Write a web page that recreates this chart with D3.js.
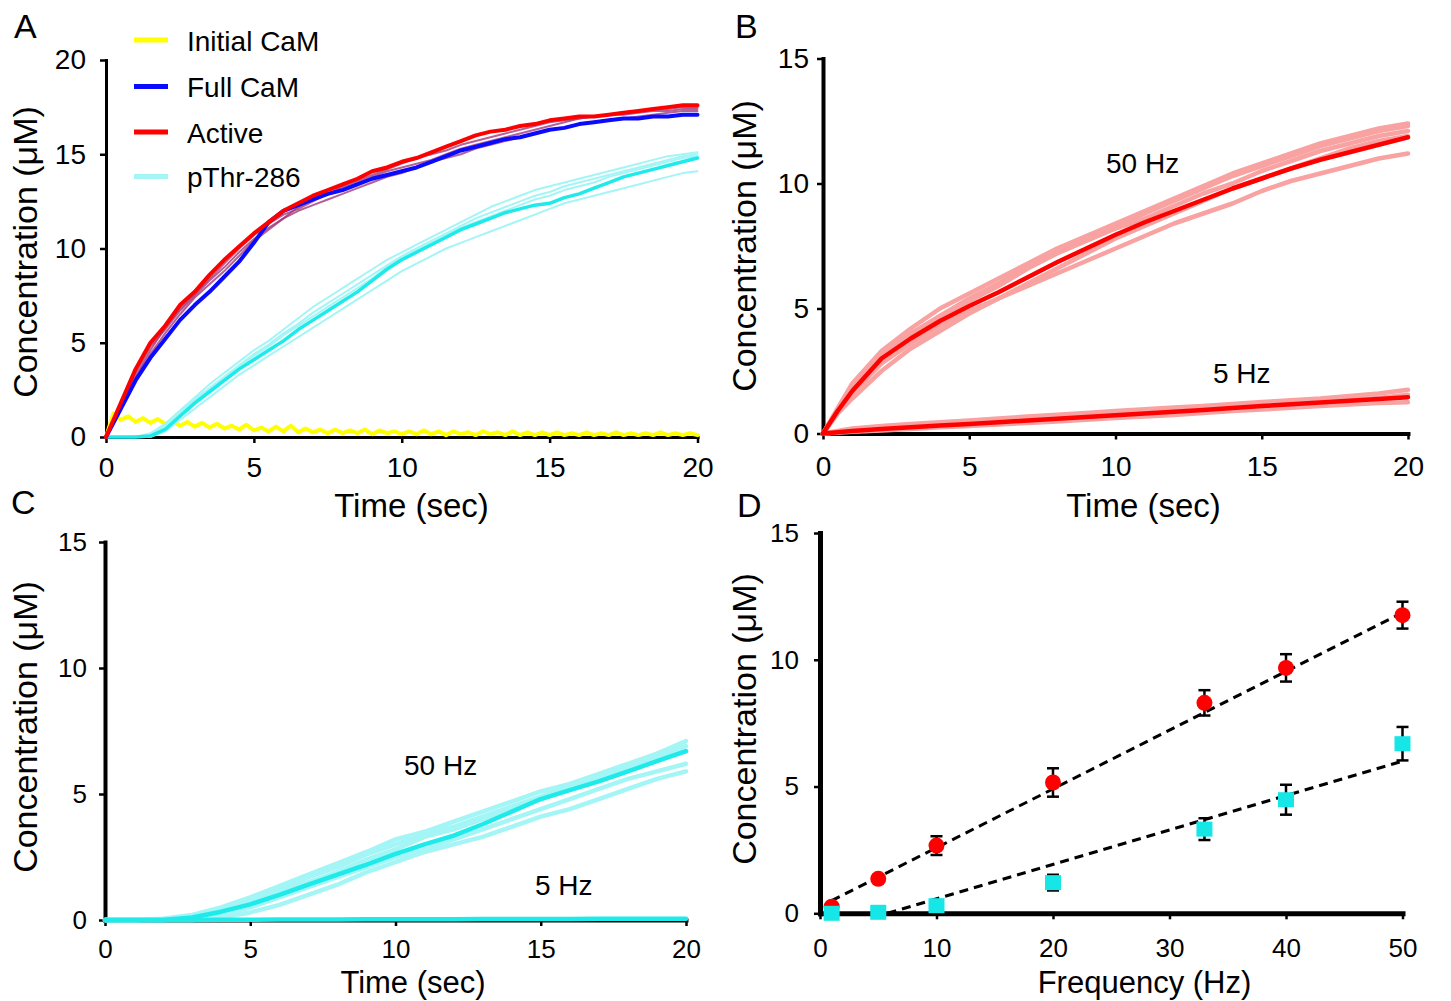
<!DOCTYPE html>
<html>
<head>
<meta charset="utf-8">
<script src="https://cdn.jsdelivr.net/npm/d3@7"></script>
<style>
  body { margin: 0; background: #fff; }
  svg { display: block; font-family: 'Liberation Sans', Arial, sans-serif; }
</style>
</head>
<body>
<script>
// ---------------- DATA ----------------
// Panel A (time grid every 0.5 s)
const timeA = [0,0.5,1,1.5,2,2.5,3,3.5,4,4.5,5,5.5,6,6.5,7,7.5,8,8.5,9,9.5,10,10.5,11,11.5,12,12.5,13,13.5,14,14.5,15,15.5,16,16.5,17,17.5,18,18.5,19,19.5,20];
const activeMeanA = [0,1.8,3.6,5.0,5.9,7.0,7.7,8.6,9.4,10.1,10.8,11.4,12.0,12.4,12.8,13.1,13.4,13.7,14.1,14.3,14.6,14.8,15.1,15.4,15.7,16.0,16.2,16.3,16.5,16.6,16.8,16.9,17.0,17.0,17.1,17.2,17.3,17.4,17.5,17.6,17.6];
const fullCaMMeanA = [0,1.5,3.0,4.2,5.2,6.2,7.0,7.7,8.5,9.3,10.3,11.4,12.0,12.3,12.6,12.9,13.1,13.4,13.7,13.9,14.1,14.3,14.6,14.9,15.2,15.4,15.6,15.8,15.9,16.1,16.3,16.4,16.6,16.7,16.8,16.9,16.9,17.0,17.0,17.1,17.1];
const activeRun1A = [0,1.6,3.2,4.6,5.8,6.8,7.6,8.4,9.2,10.0,10.7,11.3,11.8,12.1,12.5,12.9,13.3,13.6,13.9,14.2,14.5,14.8,15.0,15.2,15.5,15.7,15.9,16.1,16.3,16.5,16.7,16.8,16.9,17.0,17.1,17.2,17.3,17.4,17.4,17.5,17.5];
const activeRun2A = [0,1.7,3.4,4.8,5.7,6.7,7.5,8.3,9.0,9.8,10.5,11.1,11.6,12.2,12.6,12.9,13.2,13.5,13.8,14.1,14.3,14.5,14.7,15.0,15.3,15.5,15.7,15.9,16.1,16.3,16.5,16.7,16.9,17.0,17.1,17.1,17.2,17.3,17.3,17.4,17.4];
const activeRun3A = [0,1.5,3.1,4.4,5.5,6.5,7.4,8.1,8.8,9.6,10.4,11.0,11.6,12.0,12.3,12.6,12.9,13.2,13.5,13.8,14.0,14.3,14.6,14.8,15.0,15.3,15.5,15.7,15.9,16.1,16.3,16.4,16.6,16.7,16.8,16.9,17.0,17.1,17.2,17.3,17.3];
const pThrMeanA = [0,0,0,0.05,0.4,1.1,1.8,2.4,3.0,3.6,4.1,4.6,5.1,5.7,6.2,6.7,7.2,7.7,8.3,8.9,9.4,9.8,10.2,10.6,11.0,11.3,11.6,11.9,12.1,12.3,12.4,12.7,12.9,13.2,13.5,13.8,14.0,14.2,14.4,14.6,14.8];
const pThrRun1A = [0,0,0,0.2,0.7,1.4,2.1,2.8,3.4,4.0,4.6,5.1,5.7,6.3,6.9,7.4,7.9,8.4,8.9,9.4,9.8,10.2,10.6,11.0,11.4,11.8,12.2,12.5,12.8,13.1,13.3,13.5,13.7,13.9,14.1,14.3,14.5,14.7,14.9,15.0,15.1];
const pThrRun2A = [0,0,0,0.1,0.6,1.3,2.0,2.6,3.2,3.8,4.4,4.9,5.5,6.0,6.6,7.1,7.6,8.1,8.6,9.1,9.6,10.0,10.4,10.8,11.2,11.6,11.9,12.2,12.5,12.8,13.0,13.3,13.5,13.7,13.9,14.1,14.3,14.5,14.7,14.9,15.0];
const pThrRun3A = [0,0,0,0,0.3,0.9,1.5,2.1,2.7,3.3,3.8,4.3,4.8,5.3,5.8,6.3,6.8,7.3,7.8,8.3,8.8,9.2,9.6,10.0,10.3,10.6,10.9,11.2,11.5,11.8,12.1,12.4,12.6,12.8,13.0,13.2,13.4,13.6,13.8,14.0,14.1];
const pThrRun4A = [0,0,0,0.05,0.5,1.2,1.9,2.5,3.1,3.7,4.3,4.8,5.4,5.9,6.4,6.9,7.4,7.9,8.4,9.0,9.5,9.9,10.3,10.7,11.1,11.4,11.7,12.0,12.3,12.6,12.8,13.1,13.3,13.5,13.8,14.0,14.2,14.4,14.6,14.8,14.9];
// Initial CaM (time grid every 0.25 s)
const timeYellow = [0,0.25,0.5,0.75,1,1.25,1.5,1.75,2,2.25,2.5,2.75,3,3.25,3.5,3.75,4,4.25,4.5,4.75,5,5.25,5.5,5.75,6,6.25,6.5,6.75,7,7.25,7.5,7.75,8,8.25,8.5,8.75,9,9.25,9.5,9.75,10,10.25,10.5,10.75,11,11.25,11.5,11.75,12,12.25,12.5,12.75,13,13.25,13.5,13.75,14,14.25,14.5,14.75,15,15.25,15.5,15.75,16,16.25,16.5,16.75,17,17.25,17.5,17.75,18,18.25,18.5,18.75,19,19.25,19.5,19.75,20];
const initialCaMA = [0,1.25,0.9,1.1,0.8,1.0,0.75,0.95,0.7,0.85,0.6,0.8,0.55,0.75,0.5,0.7,0.45,0.6,0.4,0.65,0.35,0.5,0.3,0.55,0.3,0.6,0.25,0.45,0.25,0.4,0.2,0.4,0.2,0.35,0.2,0.4,0.15,0.35,0.2,0.3,0.15,0.3,0.15,0.35,0.15,0.3,0.1,0.3,0.15,0.25,0.1,0.3,0.15,0.25,0.1,0.3,0.1,0.25,0.1,0.25,0.1,0.25,0.1,0.2,0.1,0.25,0.1,0.2,0.1,0.25,0.1,0.2,0.1,0.2,0.1,0.25,0.1,0.2,0.1,0.2,0.1];
const legendLabels = ["Initial CaM", "Full CaM", "Active", "pThr-286"];

// Panel B (Active CaMKII)
const timeB = [0,0.5,1,2,3,4,5,6,7,8,9,10,11,12,13,14,15,16,17,18,19,20];
const active50Mean = [0,0.9,1.7,3.0,3.8,4.5,5.1,5.65,6.25,6.85,7.4,7.95,8.45,8.9,9.35,9.8,10.2,10.6,10.95,11.25,11.55,11.85];
const active50Run1 = [0,1.0,2.0,3.3,4.2,5.0,5.6,6.2,6.8,7.4,7.9,8.4,8.9,9.4,9.9,10.4,10.8,11.2,11.6,11.9,12.2,12.4];
const active50Run2 = [0,0.9,1.8,3.1,4.0,4.7,5.4,6.0,6.7,7.3,7.8,8.3,8.8,9.3,9.8,10.3,10.7,11.1,11.5,11.8,12.1,12.3];
const active50Run3 = [0,0.8,1.4,2.5,3.4,4.1,4.8,5.4,6.0,6.6,7.2,7.8,8.3,8.8,9.3,9.8,10.2,10.6,11.0,11.4,11.7,11.9];
const active50Run4 = [0,0.8,1.6,2.8,3.6,4.3,4.9,5.4,5.9,6.4,6.9,7.4,7.9,8.4,8.8,9.2,9.7,10.1,10.4,10.7,11.0,11.2];
const active50Run5 = [0,0.9,1.7,3.0,3.9,4.7,5.3,5.9,6.6,7.2,7.7,8.2,8.6,9.1,9.6,10.0,10.5,10.9,11.3,11.6,11.9,12.1];
const active5Mean = [0,0.05,0.1,0.18,0.25,0.32,0.38,0.45,0.52,0.59,0.66,0.73,0.8,0.87,0.94,1.02,1.1,1.17,1.24,1.31,1.38,1.45];
const active5Run1 = [0,0.1,0.2,0.3,0.38,0.45,0.52,0.6,0.68,0.75,0.82,0.9,0.97,1.04,1.1,1.18,1.26,1.33,1.4,1.5,1.6,1.75];
const active5Run2 = [0,0.03,0.07,0.12,0.18,0.25,0.3,0.36,0.42,0.48,0.55,0.62,0.68,0.74,0.82,0.9,0.96,1.03,1.1,1.16,1.22,1.25];
const active5Run3 = [0,0.05,0.12,0.2,0.28,0.36,0.42,0.5,0.56,0.64,0.72,0.78,0.86,0.92,1.0,1.08,1.15,1.22,1.3,1.36,1.42,1.55];

// Panel C (pThr-286)
const timeC = [0,1,2,3,4,5,6,7,8,9,10,11,12,13,14,15,16,17,18,19,20];
const pThr50Mean = [0,0,0,0.1,0.33,0.62,1.0,1.4,1.8,2.2,2.62,3.0,3.35,3.8,4.3,4.8,5.15,5.5,5.9,6.3,6.7];
const pThr50Run1 = [0,0,0.05,0.2,0.5,0.9,1.35,1.8,2.25,2.7,3.2,3.5,3.9,4.3,4.7,5.1,5.4,5.8,6.2,6.6,7.1];
const pThr50Run2 = [0,0,0.02,0.15,0.4,0.8,1.2,1.7,2.1,2.6,3.0,3.4,3.7,4.1,4.5,4.9,5.3,5.7,6.1,6.5,6.9];
const pThr50Run3 = [0,0,0,0,0.1,0.3,0.6,1.0,1.4,1.9,2.3,2.7,3.0,3.3,3.7,4.1,4.4,4.8,5.2,5.6,5.9];
const pThr50Run4 = [0,0,0,0.05,0.2,0.5,0.9,1.3,1.7,2.1,2.5,2.8,3.2,3.6,4.0,4.4,4.8,5.2,5.6,5.9,6.2];
const pThr50Run5 = [0,0,0.03,0.1,0.35,0.7,1.1,1.5,1.9,2.4,2.8,3.3,3.6,4.0,4.4,4.8,5.2,5.6,6.0,6.4,6.7];
const pThr5Mean = [0,0,0,0,0.01,0.01,0.02,0.02,0.02,0.03,0.03,0.03,0.03,0.04,0.04,0.04,0.04,0.05,0.05,0.05,0.05];

// Panel D (value at 20 s vs frequency)
const freqD = [1,5,10,20,33,40,50];
const activeD = [0.26,1.36,2.67,5.16,8.3,9.68,11.76];
const activeErrD = [0,0,0.37,0.56,0.5,0.54,0.53];
const pThrD = [0,0.04,0.3,1.21,3.32,4.48,6.69];
const pThrErrD = [0,0,0,0.31,0.43,0.59,0.66];
const activeFitX = [1,50], activeFitY = [0.5,11.86];
const pThrFitX = [5.8,50], pThrFitY = [0,6.0];

const ticks20 = [0,5,10,15,20];
const ticks15 = [0,5,10,15];
const ticksFreq = [0,10,20,30,40,50];

// ---------------- DRAW ----------------
const W = 1451, H = 1001;
const svg = d3.select("body").append("svg").attr("width", W).attr("height", H);
const FONT = "'Liberation Sans', Arial, sans-serif";

function zip(xs, ys) { return xs.map((x, i) => [x, ys[i]]); }

function makeAxes(g, x, y, o) {
  const xa = g.append("g").attr("transform", `translate(0,${y(0)})`)
    .call(d3.axisBottom(x).tickValues(o.xt).tickSize(6).tickSizeOuter(0).tickPadding(o.xpad).tickFormat(d3.format("d")));
  const ya = g.append("g").attr("transform", `translate(${x(0)},0)`)
    .call(d3.axisLeft(y).tickValues(o.yt).tickSize(6).tickSizeOuter(0).tickPadding(o.ypad).tickFormat(d3.format("d")));
  [xa, ya].forEach(a => {
    a.select(".domain").attr("stroke", "#000").attr("stroke-width", o.lw).attr("stroke-linecap", "square");
    a.selectAll(".tick line").attr("stroke", "#000").attr("stroke-width", 2.5);
    a.selectAll(".tick text").attr("fill", "#000").style("font-size", o.fs + "px").style("font-family", FONT);
  });
}

function trace(g, x, y, xs, ys, color, width, opacity) {
  g.append("path").datum(zip(xs, ys))
    .attr("fill", "none").attr("stroke", color).attr("stroke-width", width)
    .attr("stroke-linejoin", "round").attr("stroke-linecap", "round")
    .attr("opacity", opacity == null ? 1 : opacity)
    .attr("d", d3.line().x(d => x(d[0])).y(d => y(d[1])));
}

function text(str, x, yy, size, anchor, rot) {
  const t = svg.append("text").text(str).attr("fill", "#000")
    .style("font-size", size + "px").style("font-family", FONT)
    .attr("text-anchor", anchor || "start");
  if (rot) t.attr("transform", `translate(${x},${yy}) rotate(-90)`);
  else t.attr("x", x).attr("y", yy);
  return t;
}

const RED = "#ff0000", PINK = "#f8a2a2", BLUE = "#0a0aff", YEL = "#ffff00",
      CYAN = "#1eeaea", LCYAN = "#a4f5f5", PURP = "#a33a7a";

// ---- Panel A ----
{
  const x = d3.scaleLinear().domain([0, 20]).range([106, 697.5]);
  const y = d3.scaleLinear().domain([0, 20]).range([437, 60]);
  const g = svg.append("g");
  makeAxes(g, x, y, { xt: ticks20, yt: ticks20, xpad: 14, ypad: 14, lw: 3, fs: 28 });
  trace(g, x, y, timeYellow, initialCaMA, YEL, 4);
  [pThrRun1A, pThrRun2A, pThrRun3A, pThrRun4A].forEach(r => trace(g, x, y, timeA, r, LCYAN, 2));
  trace(g, x, y, timeA, pThrMeanA, CYAN, 3.5);
  [activeRun1A, activeRun2A, activeRun3A].forEach(r => trace(g, x, y, timeA, r, PURP, 2, 0.8));
  trace(g, x, y, timeA, fullCaMMeanA, BLUE, 4);
  trace(g, x, y, timeA, activeMeanA, RED, 4);
  // legend
  const lcol = [YEL, BLUE, RED, LCYAN];
  const ly = [40, 86.5, 132, 176.5];
  legendLabels.forEach((lab, i) => {
    svg.append("line").attr("x1", 134).attr("x2", 168).attr("y1", ly[i]).attr("y2", ly[i])
      .attr("stroke", lcol[i]).attr("stroke-width", 5);
    text(lab, 187, ly[i] + 10.5, 28);
  });
  text("A", 14, 38, 34);
  text("Time (sec)", 411.5, 517, 33, "middle");
  text("Concentration (\u03bcM)", 37, 252, 34, "middle", true);
}

// ---- Panel B ----
{
  const x = d3.scaleLinear().domain([0, 20]).range([823, 1408]);
  const y = d3.scaleLinear().domain([0, 15]).range([433.5, 58.5]);
  const g = svg.append("g");
  makeAxes(g, x, y, { xt: ticks20, yt: ticks15, xpad: 17, ypad: 8, lw: 4, fs: 28 });
  [active50Run1, active50Run2, active50Run3, active50Run4, active50Run5].forEach(r => trace(g, x, y, timeB, r, PINK, 4.5));
  [active5Run1, active5Run2, active5Run3].forEach(r => trace(g, x, y, timeB, r, PINK, 4.5));
  trace(g, x, y, timeB, active50Mean, RED, 4.5);
  trace(g, x, y, timeB, active5Mean, RED, 4.5);
  text("B", 735, 38, 34);
  text("50 Hz", 1106, 173, 28);
  text("5 Hz", 1213, 383, 28);
  text("Time (sec)", 1143.5, 517, 33, "middle");
  text("Concentration (\u03bcM)", 756, 246, 34, "middle", true);
}

// ---- Panel C ----
{
  const x = d3.scaleLinear().domain([0, 20]).range([105, 686]);
  const y = d3.scaleLinear().domain([0, 15]).range([920, 542]);
  const g = svg.append("g");
  makeAxes(g, x, y, { xt: ticks20, yt: ticks15, xpad: 14, ypad: 12, lw: 4, fs: 26 });
  [pThr50Run1, pThr50Run2, pThr50Run3, pThr50Run4, pThr50Run5].forEach(r => trace(g, x, y, timeC, r, LCYAN, 4.5));
  trace(g, x, y, timeC, pThr50Mean, CYAN, 4.5);
  trace(g, x, y, timeC, pThr5Mean, CYAN, 4.5);
  text("C", 11, 514, 34);
  text("50 Hz", 404, 775, 28);
  text("5 Hz", 535, 895, 28);
  text("Time (sec)", 413, 993, 31, "middle");
  text("Concentration (\u03bcM)", 37, 727, 34, "middle", true);
}

// ---- Panel D ----
{
  const x = d3.scaleLinear().domain([0, 50]).range([820, 1402.5]);
  const y = d3.scaleLinear().domain([0, 15]).range([913.3, 533]);
  const g = svg.append("g");
  makeAxes(g, x, y, { xt: ticksFreq, yt: ticks15, xpad: 19, ypad: 15, lw: 5, fs: 26 });
  const dl = d3.line().x(d => x(d[0])).y(d => y(d[1]));
  g.append("path").datum(zip(activeFitX, activeFitY)).attr("d", dl)
    .attr("stroke", "#000").attr("stroke-width", 3).attr("stroke-dasharray", "9,6").attr("fill", "none");
  g.append("path").datum(zip(pThrFitX, pThrFitY)).attr("d", dl)
    .attr("stroke", "#000").attr("stroke-width", 3).attr("stroke-dasharray", "9,6").attr("fill", "none");
  function errBars(vals, errs) {
    freqD.forEach((f, i) => {
      if (!errs[i]) return;
      const cx = x(f), y1 = y(vals[i] - errs[i]), y2 = y(vals[i] + errs[i]);
      g.append("line").attr("x1", cx).attr("x2", cx).attr("y1", y1).attr("y2", y2).attr("stroke", "#000").attr("stroke-width", 2.5);
      [y1, y2].forEach(yy => g.append("line").attr("x1", cx - 6).attr("x2", cx + 6).attr("y1", yy).attr("y2", yy).attr("stroke", "#000").attr("stroke-width", 2.5));
    });
  }
  errBars(activeD, activeErrD);
  errBars(pThrD, pThrErrD);
  g.selectAll("circle.act").data(freqD).enter().append("circle")
    .attr("cx", d => x(d)).attr("cy", (d, i) => y(activeD[i])).attr("r", 8).attr("fill", RED);
  g.selectAll("rect.pthr").data(freqD).enter().append("rect")
    .attr("x", d => x(d) - 8).attr("y", (d, i) => y(pThrD[i]) - 7.5).attr("width", 16).attr("height", 15).attr("fill", "#16e6e6");
  text("D", 737, 517, 34);
  text("Frequency (Hz)", 1144.5, 993, 31, "middle");
  text("Concentration (\u03bcM)", 756, 719, 34, "middle", true);
}
</script>
</body>
</html>
